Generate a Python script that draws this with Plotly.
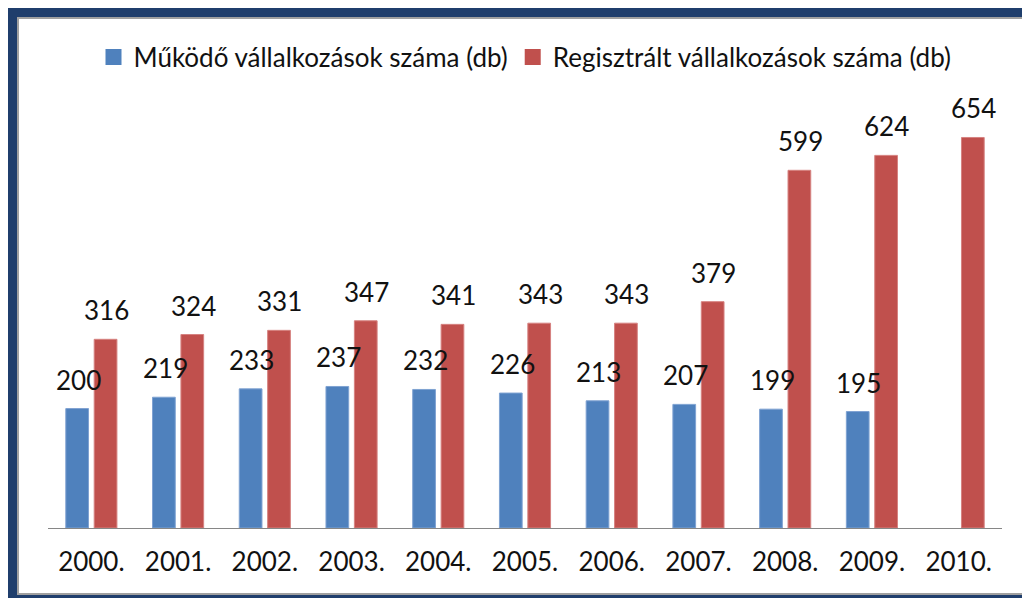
import plotly.graph_objects as go

years = ["2000.", "2001.", "2002.", "2003.", "2004.", "2005.", "2006.", "2007.", "2008.", "2009.", "2010."]
mukodo = [200, 219, 233, 237, 232, 226, 213, 207, 199, 195, None]
regisztralt = [316, 324, 331, 347, 341, 343, 343, 379, 599, 624, 654]
name_m = "Működő vállalkozások száma (db)"
name_r = "Regisztrált vállalkozások száma (db)"

BLUE = "#4F81BD"
RED = "#C0504D"
FONT = "Lato"
FS = 26

OFF = 8  # page offset of the figure (body margin)
W, H = 1030, 598
L = 48 - OFF
R = W - (1002 - OFF)
T = 110 - OFF
B = H - (528 - OFF)
PW, PH = W - L - R, H - T - B


def px(x):
    # page pixel -> paper x
    return (x - OFF - L) / PW


def py(y):
    # page pixel -> paper y
    return (H - B - (y - OFF)) / PH


fig = go.Figure()
fig.add_trace(go.Bar(x=years, y=mukodo, marker=dict(color=BLUE, line=dict(color="#7FA2D2", width=1)),
                     showlegend=False))
fig.add_trace(go.Bar(x=years, y=regisztralt, marker=dict(color=RED, line=dict(color="#D68280", width=1)),
                     showlegend=False))
fig.add_trace(go.Scatter(x=[years[0]], y=[None], mode="markers", name=name_m,
                         marker=dict(symbol="square", size=16, color=BLUE)))
fig.add_trace(go.Scatter(x=[years[0]], y=[None], mode="markers", name=name_r,
                         marker=dict(symbol="square", size=16, color=RED)))

annotations = []
for i, v in enumerate(mukodo):
    if v is not None:
        annotations.append(dict(x=i, y=v, text=str(v), showarrow=False, xshift=-13,
                                yanchor="bottom", yshift=11,
                                font=dict(family=FONT, size=FS, color="#111111")))
for i, v in enumerate(regisztralt):
    annotations.append(dict(x=i, y=v, text=str(v), showarrow=False, xshift=15,
                            yanchor="bottom", yshift=11,
                            font=dict(family=FONT, size=FS, color="#111111")))

shapes = [
    dict(type="rect", xref="paper", yref="paper", x0=px(7.5), x1=px(1045), y0=py(7.5), y1=py(660),
         line=dict(color="#5B86C0", width=1)),
    dict(type="rect", xref="paper", yref="paper", x0=px(12.5), x1=px(1045), y0=py(12.5), y1=py(599.5),
         line=dict(color="#1F3E6C", width=9)),
    dict(type="rect", xref="paper", yref="paper", x0=px(18), x1=px(1040), y0=py(18), y1=py(594),
         line=dict(color="#A0A0A0", width=2)),
]

fig.update_layout(
    width=W, height=H,
    margin=dict(l=L, r=R, t=T, b=B),
    paper_bgcolor="white", plot_bgcolor="white",
    barmode="group", bargap=0.345, bargroupgap=0.2,
    font=dict(family=FONT, size=FS, color="#111111"),
    legend=dict(orientation="h", x=px(525), xanchor="center", y=py(57), yanchor="middle",
                font=dict(family=FONT, size=FS, color="#111111"),
                bgcolor="rgba(0,0,0,0)"),
    xaxis=dict(type="category", categoryorder="array", categoryarray=years,
               range=[-0.5, len(years) - 0.5], autorange=False,
               showline=True, linecolor="#868686", linewidth=1, showgrid=False,
               ticks="outside", ticklen=11, tickcolor="rgba(0,0,0,0)",
               tickfont=dict(family=FONT, size=FS, color="#111111")),
    yaxis=dict(visible=False, range=[0, 700], autorange=False),
    annotations=annotations,
    shapes=shapes,
)

fig.write_html("out.html")
